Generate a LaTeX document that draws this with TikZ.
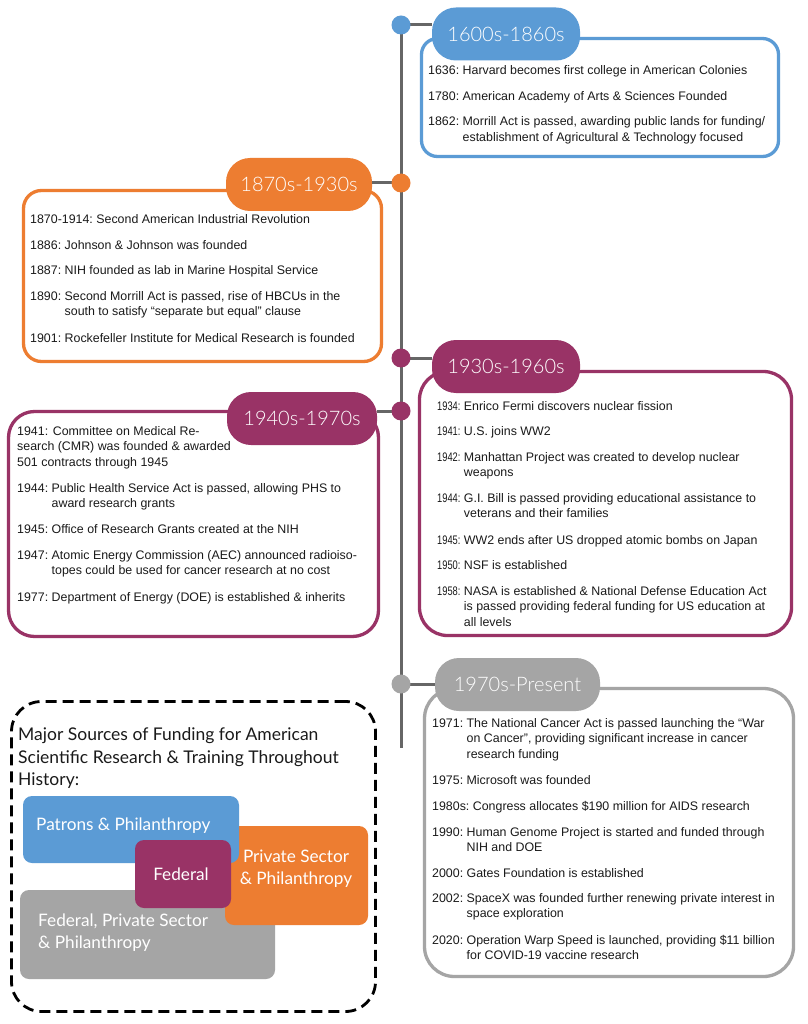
\documentclass[tikz,border=0pt]{standalone}
\usepackage{fontspec}
\usepackage{graphicx}
\setmainfont{Liberation Sans}
\newfontfamily\pillfont{Lato}[UprightFont={* Light}]
\newfontfamily\lgfont{Lato}
\definecolor{cblue}{HTML}{5B9BD5}
\definecolor{corange}{HTML}{ED7D31}
\definecolor{cpurple}{HTML}{993366}
\definecolor{cgray}{HTML}{A5A5A5}
\definecolor{tlgray}{HTML}{666666}
\definecolor{txt}{HTML}{1A1A1A}
\newcommand\evt[2]{#1\ \begin{tabular}[t]{@{}l@{}}#2\end{tabular}}
\newcommand\evn[2]{\scalebox{0.75}[1]{#1}\ \begin{tabular}[t]{@{}l@{}}#2\end{tabular}}
\tikzset{
  tline/.style={draw=tlgray, line width=3pt},
  tdot/.style={circle, fill=#1, minimum size=19pt, inner sep=0pt},
  pill/.style={fill=#1, rounded corners=24pt, minimum height=53pt, inner sep=0pt,
    text=white, font=\pillfont\fontsize{20}{22}\selectfont},
  ebox/.style={draw=#1, fill=white, line width=3.3pt, inner sep=0pt},
  ev/.style={anchor=base west, inner sep=0pt, text=txt, font=\fontsize{12.4}{15.8}\selectfont},
  lgbox/.style={fill=#1, rounded corners=9pt, inner sep=0pt},
  lgtext/.style={inner sep=0pt, text=white, font=\lgfont\fontsize{17.2}{22}\selectfont},
}
\begin{document}
\begin{tikzpicture}[x=1pt,y=-1pt]
\useasboundingbox[fill=white] (0,0) rectangle (807,1024);
% timeline
\coordinate (c1) at (401,25);
\coordinate (c2) at (401,183);
\coordinate (c3) at (401,358);
\coordinate (c4) at (401,411);
\coordinate (c5) at (401,684);
\coordinate (tend) at (401,748);
\draw[tline] (c1) -- (tend);
% boxes
\node[ebox=cblue, rounded corners=16pt, minimum width=357pt, minimum height=118pt] (b1) at (600,97.5) {};
\node[ebox=corange, rounded corners=18pt, minimum width=358pt, minimum height=171pt] (b2) at (202.5,276) {};
\node[ebox=cpurple, rounded corners=28pt, minimum width=372pt, minimum height=264pt] (b3) at (605.5,503.5) {};
\node[ebox=cpurple, rounded corners=26pt, minimum width=370pt, minimum height=225pt] (b4) at (193.5,524) {};
\node[ebox=cgray, rounded corners=30pt, minimum width=369pt, minimum height=288pt] (b5) at (609,832.5) {};
% pills
\node[pill=cblue, minimum width=148pt] (p1) at (506,34) {1600s-1860s};
\node[pill=corange, minimum width=146pt] (p2) at (299,184.5) {1870s-1930s};
\node[pill=cpurple, minimum width=148pt] (p3) at (506,366.5) {1930s-1960s};
\node[pill=cpurple, minimum width=150pt] (p4) at (302,418.5) {1940s-1970s};
\node[pill=cgray, minimum width=165pt] (p5) at (517.5,684.5) {1970s-Present};
% connectors
\draw[tline] (c1) -- (c1 -| p1.west);
\draw[tline] (c2) -- (c2 -| p2.east);
\draw[tline] (c3) -- (c3 -| p3.west);
\draw[tline] (c4) -- (c4 -| p4.east);
\draw[tline] (c5) -- (c5 -| p5.west);
% dots
\node[tdot=cblue] (d1) at (c1) {};
\node[tdot=corange] (d2) at (c2) {};
\node[tdot=cpurple] (d3) at (c3) {};
\node[tdot=cpurple] (d4) at (c4) {};
\node[tdot=cgray] (d5) at (c5) {};
% 1600s-1860s
\node[ev] (e11) at (428,75) {\evt{1636:}{Harvard becomes first college in American Colonies}};
\node[ev] (e12) at (428,101) {\evt{1780:}{American Academy of Arts \& Sciences Founded}};
\node[ev] (e13) at (428,126) {\evt{1862:}{Morrill Act is passed, awarding public lands for funding/\\establishment of Agricultural \& Technology focused}};
% 1870s-1930s
\node[ev] (e21) at (30,223) {\evt{1870-1914:}{Second American Industrial Revolution}};
\node[ev] (e22) at (30,249) {\evt{1886:}{Johnson \& Johnson was founded}};
\node[ev] (e23) at (30,274) {\evt{1887:}{NIH founded as lab in Marine Hospital Service}};
\node[ev] (e24) at (30,300) {\evt{1890:}{Second Morrill Act is passed, rise of HBCUs in the\\south to satisfy “separate but equal” clause}};
\node[ev] (e25) at (30,342) {\evt{1901:}{Rockefeller Institute for Medical Research is founded}};
% 1930s-1960s
\node[ev] (e31) at (437,410) {\evn{1934:}{Enrico Fermi discovers nuclear fission}};
\node[ev] (e32) at (437,435) {\evn{1941:}{U.S. joins WW2}};
\node[ev] (e33) at (437,461) {\evn{1942:}{Manhattan Project was created to develop nuclear\\weapons}};
\node[ev] (e34) at (437,502) {\evn{1944:}{G.I. Bill is passed providing educational assistance to\\veterans and their families}};
\node[ev] (e35) at (437,544) {\evn{1945:}{WW2 ends after US dropped atomic bombs on Japan}};
\node[ev] (e36) at (437,569) {\evn{1950:}{NSF is established}};
\node[ev] (e37) at (437,595) {\evn{1958:}{NASA is established \& National Defense Education Act\\is passed providing federal funding for US education at\\all levels}};
% 1940s-1970s
\node[ev] (e41) at (17,435) {\begin{tabular}[t]{@{}l@{}}1941: Committee on Medical Re-\\search (CMR) was founded \& awarded\\501 contracts through 1945\end{tabular}};
\node[ev] (e42) at (17,492) {\evt{1944:}{Public Health Service Act is passed, allowing PHS to\\award research grants}};
\node[ev] (e43) at (17,533) {\evt{1945:}{Office of Research Grants created at the NIH}};
\node[ev] (e44) at (17,559) {\evt{1947:}{Atomic Energy Commission (AEC) announced radioiso-\\topes could be used for cancer research at no cost}};
\node[ev] (e45) at (17,601) {\evt{1977:}{Department of Energy (DOE) is established \& inherits}};
% 1970s-Present
\node[ev] (e51) at (432,727) {\evt{1971:}{The National Cancer Act is passed launching the “War\\on Cancer”, providing significant increase in cancer\\research funding}};
\node[ev] (e52) at (432,784) {\evt{1975:}{Microsoft was founded}};
\node[ev] (e53) at (432,810) {\evt{1980s:}{Congress allocates \$190 million for AIDS research}};
\node[ev] (e54) at (432,836) {\evt{1990:}{Human Genome Project is started and funded through\\NIH and DOE}};
\node[ev] (e55) at (432,877) {\evt{2000:}{Gates Foundation is established}};
\node[ev] (e56) at (432,902) {\evt{2002:}{SpaceX was founded further renewing private interest in\\space exploration}};
\node[ev] (e57) at (432,944) {\evt{2020:}{Operation Warp Speed is launched, providing \$11 billion\\for COVID-19 vaccine research}};
% legend
\node[draw=black, line width=2.8pt, dash pattern=on 11pt off 6pt, rounded corners=30pt,
  minimum width=364pt, minimum height=310pt, inner sep=0pt] (lg) at (193.5,856.5) {};
\node[anchor=north west, inner sep=0pt, text=txt, font=\lgfont\fontsize{17.5}{22.5}\selectfont] (lgt) at (18,725)
  {\begin{tabular}[t]{@{}l@{}}Major Sources of Funding for American\\Scientific Research \& Training Throughout\\History:\end{tabular}};
\node[lgbox=cgray, minimum width=255pt, minimum height=89pt] (lb3) at (147.5,934.5) {};
\node[lgbox=corange, minimum width=143pt, minimum height=99pt] (lb2) at (296.5,875.5) {};
\node[lgbox=cblue, minimum width=216pt, minimum height=67pt] (lb1) at (131,829.5) {};
\node[lgbox=cpurple, minimum width=96pt, minimum height=68pt] (lb4) at (183,874) {};
\node[lgtext, anchor=base west] (lt1) at (36,830) {Patrons \& Philanthropy};
\node[lgtext, align=center] (lt2) at (296,869) {Private Sector\\\& Philanthropy};
\node[lgtext, anchor=base west] (lt3) at (38,926) {\begin{tabular}[t]{@{}l@{}}Federal, Private Sector\\\& Philanthropy\end{tabular}};
\node[lgtext] (lt4) at (181,874) {Federal};
\end{tikzpicture}
\end{document}
